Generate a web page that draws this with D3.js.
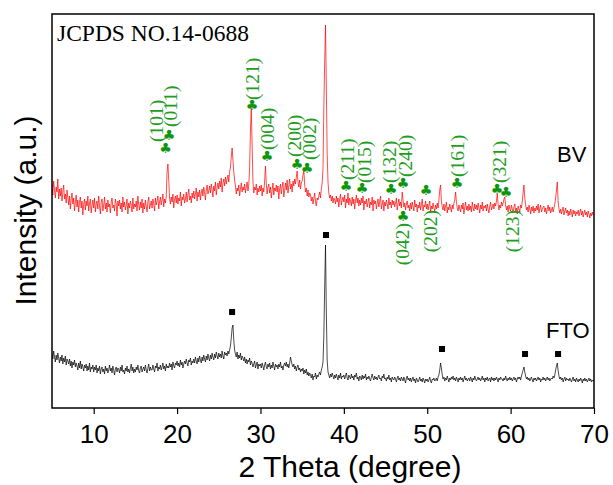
<!DOCTYPE html>
<html>
<head>
<meta charset="utf-8">
<script src="https://cdn.jsdelivr.net/npm/d3@7/dist/d3.min.js"></script>
<style>
  html, body { margin: 0; padding: 0; background: #fff; }
  svg { display: block; }
</style>
</head>
<body>
<svg id="chart" width="613" height="485"></svg>
<script>
// ---------------- data ----------------
const twoThetaStart = 5;
const twoThetaStep = 0.1;

// BV (BiVO4 film) intensity, a.u., one row per degree (5.0 ... 69.9), then 70.0
const bvIntensity = [
  224,213,227,218,210,221,216,229,209,219,
  212,220,207,216,223,209,214,205,218,211,
  203,212,199,209,215,204,210,197,206,213,
  201,208,196,206,211,200,207,193,204,209,
  198,207,202,212,197,205,209,195,203,208,
  200,210,196,204,207,199,212,202,194,206,
  209,197,203,211,199,205,196,208,201,204,
  195,206,210,200,203,197,209,204,192,207,
  202,208,199,205,196,211,201,206,198,203,
  209,194,205,200,207,203,196,210,199,204,
  201,207,197,212,203,198,206,200,209,195,
  205,199,208,202,196,206,211,199,203,207,
  200,209,204,197,210,203,207,212,199,206,
  211,203,208,214,201,209,205,212,236,244,
  228,210,204,211,206,214,200,209,212,205,
  213,204,210,207,216,202,211,208,214,205,
  209,216,206,213,219,208,212,205,215,210,
  217,209,214,220,207,216,211,218,208,215,
  219,212,221,215,208,218,223,214,217,222,
  215,224,218,211,222,217,226,213,220,225,
  219,227,221,230,216,225,229,222,231,224,
  229,233,226,236,241,251,260,248,236,228,
  222,214,220,217,223,212,219,225,216,221,
  218,224,215,221,226,217,223,240,278,300,
  262,226,215,221,218,224,213,220,216,222,
  217,223,212,220,216,227,242,224,214,221,
  224,215,221,210,218,225,213,220,217,223,
  216,222,209,219,224,214,221,226,211,218,
  225,218,228,215,222,229,219,224,216,227,
  222,229,224,231,237,226,221,228,219,225,
  227,233,238,224,216,220,212,218,211,215,
  213,207,211,204,209,215,206,202,210,208,
  212,216,210,219,225,240,300,345,383,320,
  255,226,215,210,213,207,212,205,210,208,
  204,212,206,210,201,209,214,203,208,211,
  206,213,200,209,205,215,203,210,207,202,
  211,204,209,199,207,213,205,210,202,208,
  203,210,205,212,198,207,204,209,201,206,
  210,200,206,203,211,197,208,204,207,199,
  205,209,201,207,212,199,204,208,197,206,
  202,208,204,199,210,203,206,200,208,203,
  207,201,205,210,198,204,209,202,206,200,
  216,208,201,205,198,204,207,200,203,197,
  205,199,206,202,197,208,201,204,196,203,
  200,206,198,204,209,197,203,201,207,199,
  204,198,203,207,196,202,199,205,200,197,
  203,199,205,200,208,218,223,207,201,198,
  204,197,202,206,195,201,198,204,200,196,
  203,199,205,208,216,206,200,197,203,199,
  196,203,199,205,194,201,206,198,202,197,
  204,198,202,196,206,200,197,204,199,203,
  198,205,200,195,203,199,206,197,202,200,
  203,197,204,199,195,202,206,198,201,204,
  199,205,202,207,214,204,198,203,200,206,
  202,205,209,211,203,198,202,196,203,199,
  197,203,199,195,201,204,197,200,194,202,
  199,196,203,200,207,215,223,210,203,198,
  201,196,203,199,194,201,197,202,195,200,
  197,202,198,204,195,200,203,196,199,201,
  202,196,200,194,199,203,197,201,195,198,
  201,196,200,204,210,218,226,206,199,195,
  199,194,198,201,193,197,200,195,198,192,
  197,193,199,195,191,198,194,197,192,196,
  194,198,192,196,199,193,197,191,195,198,
  193,196,191,197,194,190,195,192,196,193,
  195
];

// FTO substrate intensity, a.u., same sampling
const ftoIntensity = [
  54,49,57,51,46,53,48,55,50,45,
  51,47,53,44,50,46,52,43,49,47,
  44,49,42,47,40,46,43,48,41,45,
  42,38,45,40,47,39,44,41,37,43,
  40,44,37,42,38,45,36,41,39,43,
  36,41,38,43,35,40,37,42,34,39,
  41,36,39,34,42,37,40,35,38,43,
  37,40,35,42,38,33,39,41,36,40,
  39,35,41,37,43,36,38,34,40,37,
  42,36,39,35,40,44,37,41,35,39,
  36,41,38,43,37,35,40,42,36,39,
  41,37,43,38,35,40,44,37,41,38,
  38,43,39,36,42,40,45,37,41,39,
  43,38,41,45,39,42,37,44,40,42,
  40,45,41,44,38,46,42,40,45,43,
  47,42,45,41,48,43,46,40,44,47,
  44,49,45,42,48,46,50,43,47,45,
  49,45,51,47,44,50,46,52,48,45,
  51,47,53,49,46,52,48,54,50,47,
  53,49,55,51,48,54,50,56,52,49,
  55,51,54,50,57,52,49,56,53,55,
  52,57,54,58,62,70,80,83,68,58,
  54,51,56,49,53,50,55,48,52,50,
  47,51,45,49,44,48,46,50,43,47,
  45,41,44,47,40,43,46,39,44,42,
  44,40,45,42,38,43,46,41,39,44,
  41,45,39,43,40,46,42,38,44,41,
  43,39,44,41,46,40,42,38,43,45,
  42,46,41,44,40,45,51,47,43,41,
  44,39,42,37,41,43,38,40,36,39,
  37,40,34,38,35,39,33,36,32,35,
  33,30,34,28,32,31,35,29,33,31,
  34,36,33,38,41,46,72,120,163,95,
  48,36,33,30,34,31,35,32,29,33,
  30,34,31,28,33,30,35,29,32,31,
  33,29,32,35,30,28,33,31,29,34,
  30,32,28,33,31,35,29,31,27,32,
  31,28,33,29,32,30,34,28,31,29,
  32,29,27,31,34,30,28,32,29,31,
  28,31,33,29,30,27,32,30,34,29,
  30,27,31,29,33,28,30,26,31,29,
  28,31,29,26,30,32,28,30,27,31,
  29,27,31,28,25,30,32,28,30,27,
  30,26,29,31,27,29,25,30,28,26,
  28,31,27,29,26,30,28,25,29,27,
  29,26,28,31,27,25,29,28,30,27,
  28,30,27,31,33,38,45,40,33,29,
  31,27,30,28,32,29,26,30,28,31,
  29,32,28,30,27,31,29,26,30,28,
  31,28,30,26,29,32,28,30,27,29,
  30,27,31,29,26,30,28,32,29,27,
  29,31,28,30,27,29,32,28,30,26,
  30,28,31,27,29,30,26,31,28,30,
  27,30,28,31,29,26,30,28,31,29,
  29,27,30,28,32,29,27,30,28,31,
  28,30,27,29,31,28,30,26,29,31,
  29,31,28,32,35,38,41,36,32,29,
  31,28,30,27,29,31,28,26,30,28,
  30,27,29,31,28,30,26,29,28,31,
  28,30,27,29,31,28,30,27,29,30,
  29,32,30,33,38,42,45,37,32,29,
  31,28,30,26,29,31,27,30,28,29,
  27,30,28,26,29,31,27,29,26,30,
  28,26,29,27,30,28,25,29,27,30,
  27,29,26,28,30,27,29,26,28,27,
  28
];

// BiVO4 reflections (JCPDS 14-0688)
const bvPeakNames     = ["(101)","(011)","(121)","(004)","(200)","(002)","(211)","(015)","(132)","(240)","(042)","(202)","(161)","(321)","(123)"];
const bvPeakAngles    = [18.61, 19.03, 28.99, 30.79, 34.38, 35.58, 40.26, 42.18, 45.66, 47.10, 47.10, 49.86, 53.57, 58.37, 59.45];
const bvMarkIntensity = [260, 273, 303, 252, 244, 240, 222, 220, 219, 225, 192, 218, 225, 219, 216];
const bvLabelAngles   = [17.50, 19.20, 29.10, 30.85, 34.05, 35.90, 40.38, 42.42, 45.42, 47.34, 46.98, 50.45, 53.69, 58.61, 60.17];
const bvLabelIntensity= [266, 281, 308, 258, 251, 248, 228, 225, 225, 231, 185, 198, 231, 225, 198];
const bvLabelSide     = ["above","above","above","above","above","above","above","above","above","above","below","below","above","above","below"];

// FTO reflections
const ftoPeakAngles    = [26.60, 37.86, 51.77, 61.73, 65.69];
const ftoMarkIntensity = [96, 173, 59, 54, 54];

const xTickValues = [10, 20, 30, 40, 50, 60, 70];
const xDomain = [5, 70];
const yDomain = [0, 394];

// ---------------- drawing ----------------
(function () {
const svg = d3.select("#chart");
const mLeft = 52, mRight = 594, mTop = 14, mBottom = 408;

const x = d3.scaleLinear().domain(xDomain).range([mLeft, mRight]);
const y = d3.scaleLinear().domain(yDomain).range([mBottom, mTop]);

const line = d3.line()
  .x((d, i) => x(twoThetaStart + i * twoThetaStep))
  .y(d => y(d));

svg.append("defs").append("clipPath").attr("id", "plotclip")
  .append("rect").attr("x", mLeft).attr("y", mTop)
  .attr("width", mRight - mLeft).attr("height", mBottom - mTop);

const plot = svg.append("g").attr("clip-path", "url(#plotclip)");

plot.append("path")
  .datum(ftoIntensity)
  .attr("fill", "none")
  .attr("stroke", "#000")
  .attr("stroke-width", 0.7)
  .attr("d", line);

plot.append("path")
  .datum(bvIntensity)
  .attr("fill", "none")
  .attr("stroke", "#ff0000")
  .attr("stroke-width", 0.7)
  .attr("d", line);

// FTO square markers
svg.append("g").selectAll("rect")
  .data(ftoPeakAngles)
  .join("rect")
  .attr("x", (d) => x(d) - 3)
  .attr("y", (d, i) => y(ftoMarkIntensity[i]) - 3)
  .attr("width", 6)
  .attr("height", 6)
  .attr("fill", "#000");

// BV club markers
const green = "#1f9d1f";
svg.append("g").selectAll("text")
  .data(bvPeakAngles)
  .join("text")
  .attr("x", d => x(d))
  .attr("y", (d, i) => y(bvMarkIntensity[i]))
  .attr("text-anchor", "middle")
  .attr("dominant-baseline", "central")
  .attr("font-family", "DejaVu Sans")
  .attr("font-size", 14)
  .attr("fill", "#0e950e")
  .text("\u2663");

// BV labels (rotated)
svg.append("g").selectAll("text")
  .data(bvPeakNames)
  .join("text")
  .attr("transform", (d, i) => `translate(${x(bvLabelAngles[i])},${y(bvLabelIntensity[i])}) rotate(-90)`)
  .attr("text-anchor", (d, i) => bvLabelSide[i] === "above" ? "start" : "end")
  .attr("dominant-baseline", "central")
  .attr("font-family", "Liberation Serif, 'Times New Roman', serif")
  .attr("font-size", 19.5)
  .attr("fill", green)
  .text(d => d);

// axis
const xAxis = d3.axisBottom(x).tickValues(xTickValues).tickSize(6).tickPadding(11).tickFormat(d3.format("d"));
const gx = svg.append("g").attr("transform", `translate(0,${mBottom})`).call(xAxis);
gx.select(".domain").remove();
gx.selectAll(".tick line").attr("stroke", "#000").attr("stroke-width", 1.2);
gx.selectAll(".tick text")
  .attr("font-family", "Liberation Sans, Arial, sans-serif")
  .attr("font-size", 26)
  .attr("fill", "#000");

// frame
svg.append("rect")
  .attr("x", mLeft).attr("y", mTop)
  .attr("width", mRight - mLeft).attr("height", mBottom - mTop)
  .attr("fill", "none").attr("stroke", "#000").attr("stroke-width", 1.5);

// titles
svg.append("text")
  .attr("x", 350).attr("y", 477)
  .attr("text-anchor", "middle")
  .attr("font-family", "Liberation Sans, Arial, sans-serif")
  .attr("font-size", 30)
  .attr("fill", "#000")
  .text("2 Theta (degree)");

svg.append("text")
  .attr("transform", "translate(36,210.5) rotate(-90)")
  .attr("text-anchor", "middle")
  .attr("font-family", "Liberation Sans, Arial, sans-serif")
  .attr("font-size", 30)
  .attr("fill", "#000")
  .text("Intensity (a.u.)");

svg.append("text")
  .attr("x", 57).attr("y", 41)
  .attr("font-family", "Liberation Serif, 'Times New Roman', serif")
  .attr("font-size", 23.5)
  .attr("fill", "#000")
  .text("JCPDS NO.14-0688");

svg.append("text")
  .attr("x", 557).attr("y", 162)
  .attr("font-family", "Liberation Sans, Arial, sans-serif")
  .attr("font-size", 22)
  .attr("fill", "#000")
  .text("BV");

svg.append("text")
  .attr("x", 546).attr("y", 338)
  .attr("font-family", "Liberation Sans, Arial, sans-serif")
  .attr("font-size", 22)
  .attr("fill", "#000")
  .text("FTO");
})();
</script>
</body>
</html>
